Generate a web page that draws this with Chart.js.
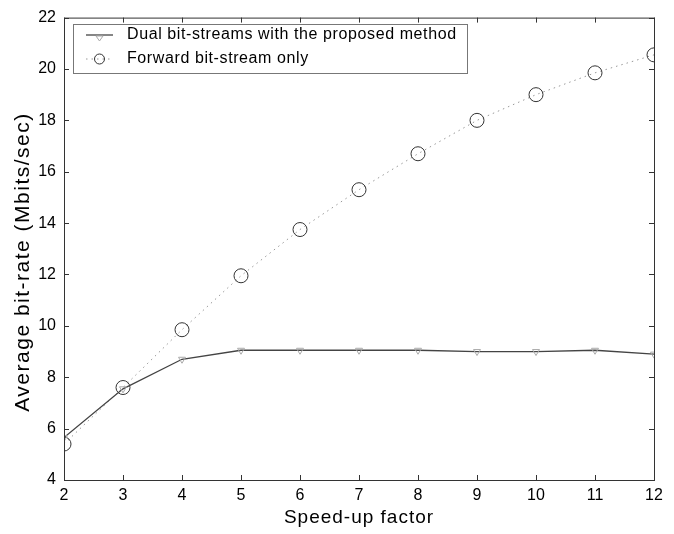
<!DOCTYPE html>
<html>
<head>
<meta charset="utf-8">
<script src="https://cdn.jsdelivr.net/npm/chart.js@4"></script>
<style>
    html, body { margin: 0; padding: 0; background: #fff; }
    #wrap { width: 674px; height: 534px; }
</style>
</head>
<body>
<div id="wrap"><canvas id="rateChart" width="674" height="534"></canvas></div>
<script>
// Data
const speedUp = [2, 3, 4, 5, 6, 7, 8, 9, 10, 11, 12];
const dualRate = [5.65, 7.55, 8.7, 9.05, 9.05, 9.05, 9.05, 9.0, 9.0, 9.05, 8.9];
const forwardRate = [5.4, 7.6, 9.85, 11.95, 13.75, 15.3, 16.7, 18.0, 19.0, 19.85, 20.55];
const seriesNames = ['Dual bit-streams with the proposed method', 'Forward bit-stream only'];
const xTitle = 'Speed-up factor';
const yTitle = 'Average bit-rate (Mbits/sec)';

const FONT = '"Liberation Sans", Arial, sans-serif';

// MATLAB style box, inward ticks, titles and legend
const matlabFrame = {
    id: 'matlabFrame',
    afterDraw(chart) {
        const { ctx, chartArea: a, scales } = chart;
        ctx.save();

        // box
        ctx.strokeStyle = '#333';
        ctx.lineWidth = 1;
        ctx.strokeRect(a.left + 0.5, a.top + 0.5, a.right - a.left, a.bottom - a.top);

        // inward ticks
        const tl = 5;
        ctx.beginPath();
        scales.x.ticks.forEach(t => {
            const px = Math.round(scales.x.getPixelForValue(t.value)) + 0.5;
            ctx.moveTo(px, a.bottom); ctx.lineTo(px, a.bottom - tl);
            ctx.moveTo(px, a.top); ctx.lineTo(px, a.top + tl);
        });
        scales.y.ticks.forEach(t => {
            const py = Math.round(scales.y.getPixelForValue(t.value)) + 0.5;
            ctx.moveTo(a.left, py); ctx.lineTo(a.left + tl, py);
            ctx.moveTo(a.right, py); ctx.lineTo(a.right - tl, py);
        });
        ctx.stroke();

        // axis titles
        ctx.fillStyle = '#000';
        ctx.textAlign = 'center';
        ctx.textBaseline = 'middle';
        ctx.letterSpacing = '1px';
        ctx.font = '19px ' + FONT;
        ctx.fillText(xTitle, (a.left + a.right) / 2, 518);
        ctx.translate(23, 262);
        ctx.rotate(-Math.PI / 2);
        ctx.letterSpacing = '1.5px';
        ctx.font = '21px ' + FONT;
        ctx.fillText(yTitle, 0, 0);
        ctx.restore();

        // legend
        ctx.save();
        const lx = 73, ly = 24, lw = 394, lh = 49;
        ctx.fillStyle = '#fff';
        ctx.fillRect(lx, ly, lw, lh);
        ctx.strokeStyle = '#777';
        ctx.lineWidth = 1;
        ctx.strokeRect(lx + 0.5, ly + 0.5, lw, lh);
        ctx.font = '16px ' + FONT;
        ctx.letterSpacing = '0.6px';
        ctx.textAlign = 'left';
        ctx.textBaseline = 'middle';
        const rows = [35, 59];
        chart.data.datasets.forEach((ds, i) => {
            const y = rows[i];
            ctx.strokeStyle = ds.borderColor;
            ctx.lineWidth = ds.borderWidth;
            ctx.setLineDash(ds.borderDash || []);
            ctx.beginPath();
            ctx.moveTo(86, y); ctx.lineTo(113, y);
            ctx.stroke();
            ctx.setLineDash([]);
            ctx.strokeStyle = ds.pointBorderColor;
            ctx.lineWidth = 1;
            if (i === 0) {
                ctx.beginPath();
                ctx.moveTo(96, y + 1); ctx.lineTo(103, y + 1); ctx.lineTo(99.5, y + 6);
                ctx.closePath();
                ctx.stroke();
            } else {
                ctx.beginPath();
                ctx.arc(99.5, y, 5, 0, Math.PI * 2);
                ctx.stroke();
            }
            ctx.fillStyle = '#000';
            ctx.fillText(ds.label, 127, y);
        });
        ctx.restore();
    }
};

const ctx = document.getElementById('rateChart').getContext('2d');

new Chart(ctx, {
    type: 'line',
    data: {
        labels: speedUp,
        datasets: [{
            label: seriesNames[0],
            data: speedUp.map((x, i) => ({ x, y: dualRate[i] })),
            borderColor: '#444',
            borderWidth: 1.3,
            pointStyle: 'triangle',
            rotation: 180,
            pointRadius: 4,
            pointBorderColor: '#aaa',
            pointBackgroundColor: 'rgba(0,0,0,0)',
            pointBorderWidth: 1,
            tension: 0
        }, {
            label: seriesNames[1],
            data: speedUp.map((x, i) => ({ x, y: forwardRate[i] })),
            borderColor: '#999',
            borderWidth: 1,
            borderDash: [1.5, 4],
            pointStyle: 'circle',
            pointRadius: 7,
            pointBorderColor: '#333',
            pointBackgroundColor: 'rgba(0,0,0,0)',
            pointBorderWidth: 1,
            tension: 0
        }]
    },
    options: {
        responsive: false,
        animation: false,
        layout: {
            padding: { top: 17, right: 20, left: 0, bottom: 0 }
        },
        plugins: {
            legend: { display: false },
            tooltip: { enabled: false }
        },
        scales: {
            x: {
                type: 'linear',
                min: 2,
                max: 12,
                grid: { display: false, drawTicks: false },
                border: { display: false },
                ticks: {
                    stepSize: 1,
                    padding: 6,
                    color: '#000',
                    font: { family: FONT, size: 16 }
                },
                afterFit: (scale) => { scale.height = 54; }
            },
            y: {
                min: 4,
                max: 22,
                grid: { display: false, drawTicks: false },
                border: { display: false },
                ticks: {
                    stepSize: 2,
                    padding: 8,
                    color: '#000',
                    font: { family: FONT, size: 16 }
                },
                afterFit: (scale) => { scale.width = 64; }
            }
        }
    },
    plugins: [matlabFrame]
});
</script>
</body>
</html>
